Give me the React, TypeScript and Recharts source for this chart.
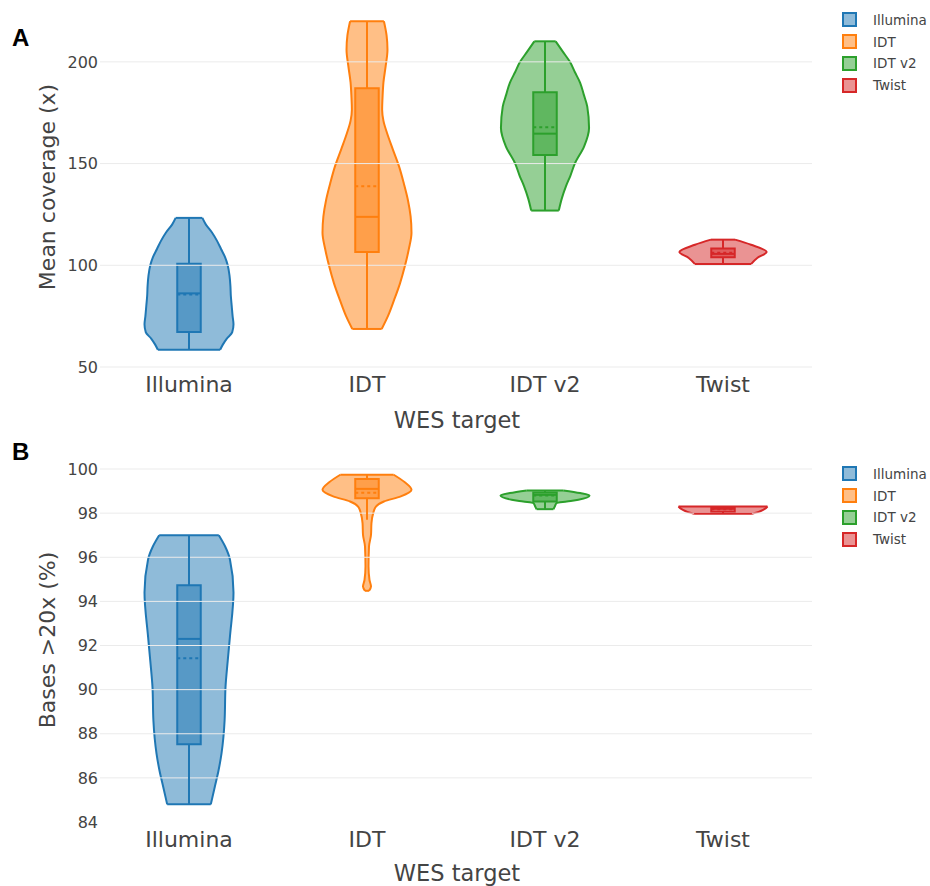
import React from 'react';
import { ComposedChart, Area, XAxis, YAxis, ReferenceLine, ReferenceArea } from 'recharts';

const TARGETS = ['Illumina', 'IDT', 'IDT v2', 'Twist'];
const COLORS = ['#1f77b4', '#ff7f0e', '#2ca02c', '#d62728'];

// Panel A — mean coverage: [value, relative density width]
const COV_ILLUMINA = [
  [58.5, 0.7], [61, 0.76], [64, 0.85], [67, 0.97], [71, 1.0], [75, 0.98], [80, 0.96], [85, 0.94],
  [90, 0.93], [95, 0.91], [100, 0.87], [104, 0.81], [108, 0.72], [112, 0.63], [116, 0.52], [120, 0.38], [123.3, 0.3],
];
const COV_IDT = [
  [68.7, 0.33], [75, 0.47], [83, 0.61], [91, 0.74], [99.5, 0.85], [108, 0.94], [116, 1.0], [124, 0.98],
  [132, 0.92], [140, 0.83], [148.6, 0.72], [157, 0.58], [165, 0.45], [171, 0.37], [176.5, 0.34], [183, 0.35],
  [190, 0.37], [198, 0.42], [206, 0.46], [213, 0.44], [220, 0.38],
];
const COV_IDT_V2 = [
  [126.9, 0.31], [133, 0.38], [138.8, 0.47], [144, 0.57], [150, 0.67], [158.5, 0.88], [167.5, 0.99], [178, 0.95],
  [184, 0.87], [189.7, 0.79], [195, 0.67], [200, 0.56], [205, 0.4], [210.1, 0.24],
];
const COV_TWIST = [[100.6, 0.63], [103.6, 0.77], [106.5, 0.98], [110.1, 0.63], [112.6, 0.27]];

const COV_LOW = [58.5, 68.7, 126.9, 100.6];
const COV_Q1 = [67.2, 106.5, 154.2, 103.9];
const COV_MEDIAN = [86.2, 123.8, 164.7, 105.6];
const COV_MEAN = [85.6, 138.8, 167.8, 106.2];
const COV_Q3 = [100.8, 187, 185, 108.2];
const COV_HIGH = [123.3, 220, 210.1, 112.6];
const COV_TICKS = [50, 100, 150, 200];

// Panel B — bases > 20x (%)
const PCT_ILLUMINA = [
  [84.8, 0.49], [85.6, 0.58], [86.3, 0.66], [87.1, 0.73], [88.6, 0.8], [90.1, 0.82], [91.3, 0.87],
  [92.4, 0.92], [94.4, 1.0], [95.9, 0.92], [96.5, 0.81], [97, 0.67],
];
const PCT_IDT = [
  [94.48, 0.045], [94.67, 0.09], [94.97, 0.056], [95.58, 0.034], [96.49, 0.045], [97.02, 0.09], [97.55, 0.1],
  [98.0, 0.14], [98.3, 0.2], [98.53, 0.38], [98.76, 0.76], [99.06, 1.0], [99.4, 0.85], [99.74, 0.6],
];
const PCT_IDT_V2 = [
  [98.18, 0.19], [98.3, 0.22], [98.46, 0.26], [98.53, 0.49], [98.61, 0.75], [98.8, 1.0], [98.91, 0.79], [99.03, 0.41],
];
const PCT_TWIST = [[97.97, 0.65], [98.06, 0.8], [98.15, 0.9], [98.24, 0.97], [98.3, 1.0]];

const PCT_LOW = [84.8, 97.7, 98.18, 97.97];
const PCT_Q1 = [87.52, 98.68, 98.53, 98.05];
const PCT_MEDIAN = [92.3, 99.1, 98.83, 98.2];
const PCT_MEAN = [91.42, 98.92, 98.8, 98.18];
const PCT_Q3 = [94.73, 99.55, 98.94, 98.26];
const PCT_HIGH = [97, 99.74, 99.03, 98.3];
const PCT_TICKS = [84, 86, 88, 90, 92, 94, 96, 98, 100];

const VIOLIN_HALF = 0.25;
const BOX_HALF = 0.066;
const FONT = '"DejaVu Sans", Verdana, sans-serif';
const TEXT = '#444';

type Stats = { low: number[]; q1: number[]; median: number[]; mean: number[]; q3: number[]; high: number[] };

function ViolinPanel({
  profiles, stats, domain, ticks, grid, height, marginTop, axisHeight,
}: {
  profiles: number[][][]; stats: Stats; domain: [number, number]; ticks: number[]; grid: number[];
  height: number; marginTop: number; axisHeight: number;
}) {
  const rows = profiles.map((p, i) =>
    p.map(([v, d]) => ({ v, span: [i - d * VIOLIN_HALF, i + d * VIOLIN_HALF] })),
  );
  return (
    <ComposedChart
      layout="vertical"
      width={930}
      height={height}
      margin={{ top: marginTop, right: 118, bottom: 0, left: 0 }}
    >
      <XAxis
        type="number"
        domain={[-0.5, 3.5]}
        ticks={[0, 1, 2, 3]}
        interval={0}
        allowDataOverflow
        height={axisHeight}
        axisLine={false}
        tickLine={false}
        tickSize={0}
        tickMargin={9}
        tickFormatter={(t: number) => TARGETS[t]}
        tick={{ fill: TEXT, fontSize: 22, fontFamily: FONT }}
      />
      <YAxis
        type="number"
        dataKey="v"
        reversed
        domain={domain}
        ticks={ticks}
        interval={0}
        allowDataOverflow
        width={100}
        axisLine={false}
        tickLine={false}
        tickSize={0}
        tickMargin={2}
        tick={{ fill: TEXT, fontSize: 16, fontFamily: FONT }}
      />
      {grid.map((g) => (
        <ReferenceLine key={`g${g}`} y={g} stroke="#ebebeb" strokeWidth={1} />
      ))}
      {rows.map((r, i) => (
        <Area
          key={`v${i}`}
          data={r}
          dataKey="span"
          type="monotone"
          stroke={COLORS[i]}
          strokeWidth={2}
          fill={COLORS[i]}
          fillOpacity={0.5}
          dot={false}
          activeDot={false}
          isAnimationActive={false}
        />
      ))}
      {rows.map((r, i) =>
        [r[0], r[r.length - 1]].map((e, k) => (
          <ReferenceLine
            key={`c${i}-${k}`}
            segment={[{ x: e.span[0], y: e.v }, { x: e.span[1], y: e.v }]}
            stroke={COLORS[i]}
            strokeWidth={2}
          />
        )),
      )}
      {TARGETS.map((_, i) => (
        <ReferenceLine
          key={`wl${i}`}
          segment={[{ x: i, y: stats.low[i] }, { x: i, y: stats.q1[i] }]}
          stroke={COLORS[i]}
          strokeWidth={2}
        />
      ))}
      {TARGETS.map((_, i) => (
        <ReferenceLine
          key={`wh${i}`}
          segment={[{ x: i, y: stats.q3[i] }, { x: i, y: stats.high[i] }]}
          stroke={COLORS[i]}
          strokeWidth={2}
        />
      ))}
      {TARGETS.map((_, i) => (
        <ReferenceArea
          key={`b${i}`}
          x1={i - BOX_HALF}
          x2={i + BOX_HALF}
          y1={stats.q1[i]}
          y2={stats.q3[i]}
          fill={COLORS[i]}
          fillOpacity={0.5}
          stroke={COLORS[i]}
          strokeWidth={2}
        />
      ))}
      {TARGETS.map((_, i) => (
        <ReferenceLine
          key={`m${i}`}
          segment={[{ x: i - BOX_HALF, y: stats.median[i] }, { x: i + BOX_HALF, y: stats.median[i] }]}
          stroke={COLORS[i]}
          strokeWidth={2}
        />
      ))}
      {TARGETS.map((_, i) => (
        <ReferenceLine
          key={`a${i}`}
          segment={[{ x: i - BOX_HALF, y: stats.mean[i] }, { x: i + BOX_HALF, y: stats.mean[i] }]}
          stroke={COLORS[i]}
          strokeWidth={2}
          strokeDasharray="3 3"
        />
      ))}
    </ComposedChart>
  );
}

function LegendBox({ top }: { top: number }) {
  return (
    <div style={{ position: 'absolute', left: 842, top, fontFamily: FONT, fontSize: 13.5, color: TEXT }}>
      {TARGETS.map((t, i) => (
        <div key={t} style={{ display: 'flex', alignItems: 'center', height: 21.8 }}>
          <div
            style={{
              width: 11,
              height: 11,
              border: `2px solid ${COLORS[i]}`,
              background: COLORS[i] + '80',
              marginRight: 16,
            }}
          />
          <span>{t}</span>
        </div>
      ))}
    </div>
  );
}

const abs = (left: number, top: number, extra: React.CSSProperties = {}): React.CSSProperties => ({
  position: 'absolute',
  left,
  top,
  whiteSpace: 'nowrap',
  ...extra,
});

export default function App() {
  return (
    <div style={{ position: 'relative', width: 930, height: 886, background: '#fff', overflow: 'hidden' }}>
      <style>{'body{margin:0}'}</style>
      <div style={{ position: 'absolute', left: 0, top: 0 }}>
        <ViolinPanel
          profiles={[COV_ILLUMINA, COV_IDT, COV_IDT_V2, COV_TWIST]}
          stats={{ low: COV_LOW, q1: COV_Q1, median: COV_MEDIAN, mean: COV_MEAN, q3: COV_Q3, high: COV_HIGH }}
          domain={[50, 225]}
          ticks={COV_TICKS}
          grid={COV_TICKS}
          height={440}
          marginTop={11}
          axisHeight={73}
        />
      </div>
      <div style={{ position: 'absolute', left: 0, top: 440 }}>
        <ViolinPanel
          profiles={[PCT_ILLUMINA, PCT_IDT, PCT_IDT_V2, PCT_TWIST]}
          stats={{ low: PCT_LOW, q1: PCT_Q1, median: PCT_MEDIAN, mean: PCT_MEAN, q3: PCT_Q3, high: PCT_HIGH }}
          domain={[84, 100.5]}
          ticks={PCT_TICKS}
          grid={PCT_TICKS.slice(1)}
          height={446}
          marginTop={18}
          axisHeight={64}
        />
      </div>
      <div style={abs(12, 26, { fontFamily: '"Liberation Sans", Arial, sans-serif', fontWeight: 700, fontSize: 24, lineHeight: 1 })}>A</div>
      <div style={abs(12, 440, { fontFamily: '"Liberation Sans", Arial, sans-serif', fontWeight: 700, fontSize: 24, lineHeight: 1 })}>B</div>
      <div style={abs(47, 187, { fontFamily: FONT, fontSize: 22, color: TEXT, transform: 'translate(-50%,-50%) rotate(-90deg)' })}>
        Mean coverage (x)
      </div>
      <div style={abs(47, 640, { fontFamily: FONT, fontSize: 22, color: TEXT, transform: 'translate(-50%,-50%) rotate(-90deg)' })}>
        Bases &gt;20x (%)
      </div>
      <div style={abs(457, 420, { fontFamily: FONT, fontSize: 22.5, color: TEXT, transform: 'translate(-50%,-50%)' })}>
        WES target
      </div>
      <div style={abs(457, 873, { fontFamily: FONT, fontSize: 22.5, color: TEXT, transform: 'translate(-50%,-50%)' })}>
        WES target
      </div>
      <LegendBox top={9} />
      <LegendBox top={463} />
    </div>
  );
}
